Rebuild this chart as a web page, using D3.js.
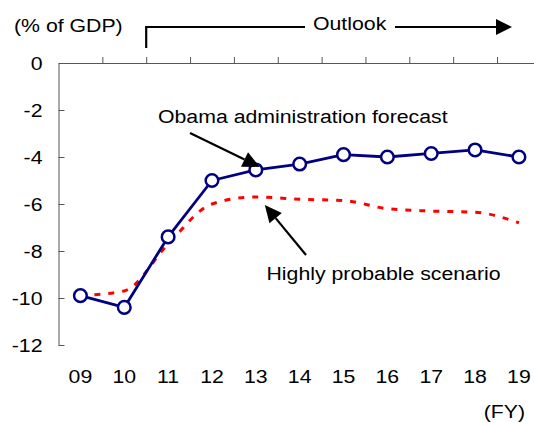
<!DOCTYPE html>
<html>
<head>
<meta charset="utf-8">
<script src="https://cdn.jsdelivr.net/npm/d3@7/dist/d3.min.js"></script>
<style>
  html, body { margin: 0; padding: 0; background: #fff; }
  svg { display: block; }
  text { font-family: "Liberation Sans", Arial, sans-serif; fill: #000; }
</style>
</head>
<body>
<svg id="chart" width="534" height="423"></svg>
<script>
// Fiscal years and budget balance (% of GDP)
const years = ["09", "10", "11", "12", "13", "14", "15", "16", "17", "18", "19"];
const obamaForecast = [-9.9, -10.4, -7.4, -5.0, -4.55, -4.3, -3.9, -4.0, -3.85, -3.7, -4.0];
const probableScenario = [-9.9, -9.7, -7.7, -6.0, -5.7, -5.8, -5.85, -6.2, -6.3, -6.35, -6.8];
const yTicks = [0, -2, -4, -6, -8, -10, -12];

const FONT = 19, STRETCH = 1.12;
const svg = d3.select("#chart");

const left = 58.5, band = 43.85;
const x = d3.scaleBand().domain(years).range([left, left + band * years.length]);
const xEdge = d3.scaleLinear().domain([0, years.length]).range([left, left + band * years.length]);
const y = d3.scaleLinear().domain([-12, 0]).range([345, 63]);

function label(g, str, px, py, anchor) {
  return g.append("text")
    .attr("transform", `translate(${px},${py}) scale(${STRETCH},1)`)
    .attr("text-anchor", anchor || "start")
    .style("font-size", FONT + "px")
    .text(str);
}

// y axis, ticks pointing inward, plain hyphen for negatives
const yAxis = svg.append("g")
  .attr("transform", `translate(${left},0)`)
  .call(d3.axisLeft(y).tickValues(yTicks).tickSizeInner(-6).tickSizeOuter(0).tickFormat(d => String(d)));
yAxis.selectAll("path, line").attr("stroke", "#555");
yAxis.selectAll("text")
  .attr("x", 0)
  .attr("transform", `translate(-16,0) scale(${STRETCH},1)`)
  .style("font-size", FONT + "px")
  .style("font-family", '"Liberation Sans", Arial, sans-serif')
  .attr("fill", "#000");

// x axis along the zero line, ticks on band edges pointing up
const xAxis = svg.append("g")
  .attr("transform", `translate(0,${y(0)})`)
  .call(d3.axisTop(xEdge).tickValues(d3.range(1, years.length + 1)).tickSizeInner(6).tickSizeOuter(0).tickFormat(""));
xAxis.selectAll("path, line").attr("stroke", "#555");

// year labels below the plot
const xLabels = svg.append("g")
  .attr("transform", `translate(0,${y(-12)})`)
  .call(d3.axisBottom(x).tickSize(0).tickPadding(24.5));
xLabels.select(".domain").remove();
xLabels.selectAll(".tick").attr("transform", "translate(0,0)");
xLabels.selectAll("text")
  .attr("transform", `scale(${STRETCH},1)`)
  .attr("x", d => (x(d) + x.bandwidth() / 2) / STRETCH)
  .attr("fill", "#000")
  .style("font-size", FONT + "px")
  .style("font-family", '"Liberation Sans", Arial, sans-serif');

const cx = d => x(d) + x.bandwidth() / 2;

// highly probable scenario (dashed, smoothed)
svg.append("path")
  .datum(years.map((d, i) => [cx(d), y(probableScenario[i])]))
  .attr("fill", "none")
  .attr("stroke", "#ff0000")
  .attr("stroke-width", 3)
  .attr("stroke-dasharray", "6,8")
  .attr("d", d3.line().curve(d3.curveMonotoneX));

// administration forecast
svg.append("path")
  .datum(years.map((d, i) => [cx(d), y(obamaForecast[i])]))
  .attr("fill", "none")
  .attr("stroke", "#000080")
  .attr("stroke-width", 2.8)
  .attr("stroke-linejoin", "round")
  .attr("d", d3.line());

svg.append("g").selectAll("circle")
  .data(years)
  .join("circle")
  .attr("cx", d => cx(d))
  .attr("cy", (d, i) => y(obamaForecast[i]))
  .attr("r", 6.3)
  .attr("fill", "#fff")
  .attr("stroke", "#000080")
  .attr("stroke-width", 2.5);

// arrow helper: shaft plus filled head
function arrow(x1, y1, x2, y2, len, half) {
  const a = Math.atan2(y2 - y1, x2 - x1);
  const bx = x2 - len * Math.cos(a), by = y2 - len * Math.sin(a);
  const g = svg.append("g");
  g.append("line")
    .attr("x1", x1).attr("y1", y1).attr("x2", bx).attr("y2", by)
    .attr("stroke", "#000").attr("stroke-width", 2.2);
  const px = -Math.sin(a) * half, py = Math.cos(a) * half;
  g.append("path")
    .attr("d", `M${x2},${y2}L${bx + px},${by + py}L${bx - px},${by - py}Z`)
    .attr("fill", "#000");
}

// annotations
label(svg, "(% of GDP)", 14, 32);
label(svg, "Obama administration forecast", 158, 123);
arrow(190, 133, cx("13") + 4, y(obamaForecast[4]) - 3, 17, 8);
label(svg, "Highly probable scenario", 266.5, 280);
arrow(306, 255, cx("13") + 9, y(probableScenario[4]) + 8, 17, 8);
label(svg, "(FY)", 525, 418, "end");

// outlook bracket
const xOut = xEdge(2);
svg.append("path")
  .attr("d", `M${xOut},48V27H305`)
  .attr("fill", "none").attr("stroke", "#000").attr("stroke-width", 2.2);
label(svg, "Outlook", 313, 29.5);
arrow(395, 27, 512, 27, 16, 8);
</script>
</body>
</html>
